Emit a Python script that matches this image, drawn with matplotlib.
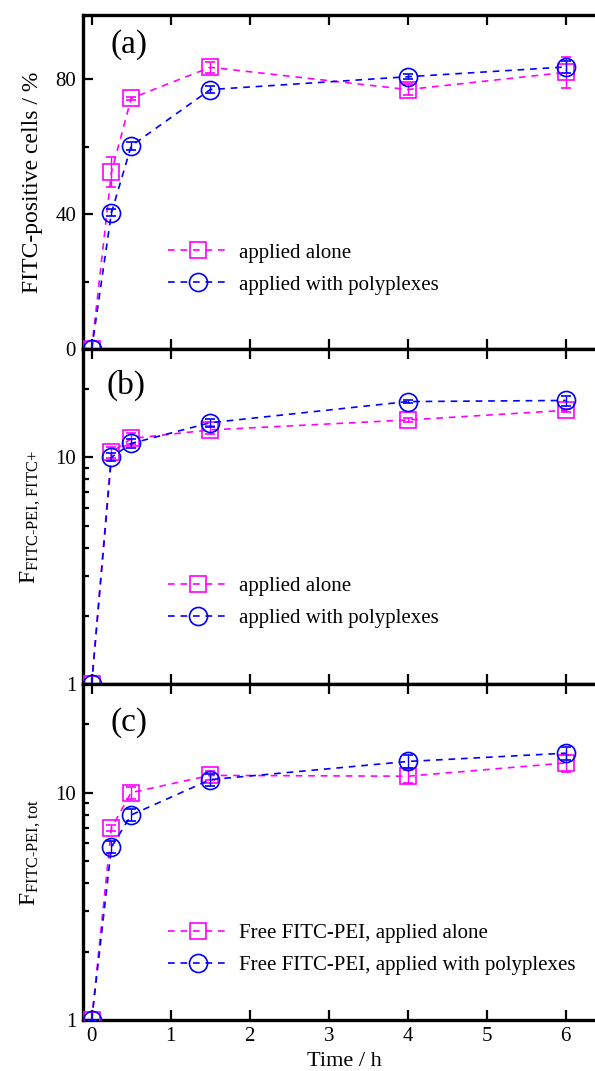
import matplotlib
matplotlib.use("Agg")
import matplotlib.pyplot as plt
from matplotlib.ticker import FixedLocator, NullFormatter, LogLocator, FuncFormatter

plt.rcParams['font.family'] = ['Liberation Serif', 'DejaVu Serif']
plt.rcParams['mathtext.fontset'] = 'custom'
plt.rcParams['mathtext.rm'] = 'Liberation Serif'
plt.rcParams['mathtext.it'] = 'Liberation Serif:italic'
plt.rcParams['font.size'] = 15

# time points (h)
time_h = [0, 0.25, 0.5, 1.5, 4, 6]

# (a) FITC-positive cells / %
pos_alone = [0, 52.4, 74.3, 83.5, 76.9, 82.0]
pos_alone_err = [0, 4.4, 0.5, 1.7, 1.6, 4.6]
pos_poly = [0, 40.4, 60.2, 76.9, 80.7, 83.6]
pos_poly_err = [0, 1.0, 1.2, 1.0, 0.8, 1.7]

# (b) F FITC-PEI, FITC+
fpos_alone = [1, 10.5, 12.1, 13.2, 14.6, 16.1]
fpos_alone_err = [0, 0.6, 0.7, 0.5, 0.3, 0.3]
fpos_poly = [1, 10.0, 11.5, 14.2, 17.6, 17.8]
fpos_poly_err = [0, 0.4, 0.5, 0.6, 0.3, 0.9]

# (c) F FITC-PEI, tot
ftot_alone = [1, 7.0, 10.0, 11.9, 11.8, 13.5]
ftot_alone_err = [0, 0.2, 0.6, 0.6, 0.8, 1.2]
ftot_poly = [1, 5.76, 7.97, 11.4, 13.7, 14.9]
ftot_poly_err = [0, 0.35, 0.5, 0.7, 0.9, 1.0]

legend_a = ["applied alone", "applied with polyplexes"]
legend_c = ["Free FITC-PEI, applied alone", "Free FITC-PEI, applied with polyplexes"]

MAG = '#ff00ff'
BLU = '#0000ff'

fig = plt.figure(figsize=(5.95, 10.71), dpi=100)
left, width = 83 / 595, 1 - 83 / 595
ax_a = fig.add_axes([left, 0.6741, width, 0.3119])
ax_b = fig.add_axes([left, 0.3613, width, 0.3128])
ax_c = fig.add_axes([left, 0.0476, width, 0.3137])


def draw(ax, y1, e1, y2, e2, labels):
    ls = (0, (4, 3.5))
    ax.errorbar(time_h, y1, yerr=e1, color=MAG, ls=ls, lw=1.2, marker='s', ms=12,
                mfc='none', mec=MAG, mew=1.2, capsize=3.5, elinewidth=1.0,
                capthick=1.0, label=labels[0], zorder=3)
    ax.errorbar(time_h, y2, yerr=e2, color=BLU, ls=ls, lw=1.2, marker='o', ms=13,
                mfc='none', mec=BLU, mew=1.2, capsize=3.5, elinewidth=1.0,
                capthick=1.0, label=labels[1], zorder=4)
    ax.set_xlim(-0.11, 6.37)
    ax.xaxis.set_major_locator(FixedLocator([0, 1, 2, 3, 4, 5, 6]))
    ax.tick_params(which='both', direction='in', top=True, right=False, width=1.6)
    ax.tick_params(which='major', length=7, pad=5)
    ax.tick_params(which='minor', length=4)
    for s in ['left', 'top', 'bottom']:
        ax.spines[s].set_linewidth(2.4)
    ax.spines['right'].set_visible(False)


def add_legend(ax, y):
    h, l = ax.get_legend_handles_labels()
    h = [x[0] for x in h]
    ax.legend(h, l, loc='center left', bbox_to_anchor=(0.166, y), frameon=False,
              fontsize=15, handlelength=2.9, handletextpad=0.5, labelspacing=0.6,
              borderpad=0, borderaxespad=0, numpoints=1)


# panel (a)
draw(ax_a, pos_alone, pos_alone_err, pos_poly, pos_poly_err, legend_a)
ax_a.set_ylim(0, 99)
ax_a.yaxis.set_major_locator(FixedLocator([0, 40, 80]))
ax_a.yaxis.set_minor_locator(FixedLocator([20, 60]))
ax_a.set_ylabel("FITC-positive cells / %", fontsize=17, labelpad=9)
ax_a.tick_params(labelbottom=False)
ax_a.text(0.053, 0.91, "(a)", transform=ax_a.transAxes, fontsize=24, va='center')
add_legend(ax_a, 0.24)

# panel (b)
draw(ax_b, fpos_alone, fpos_alone_err, fpos_poly, fpos_poly_err, legend_a)
ax_b.set_yscale('log')
ax_b.set_ylim(1, 30)
ax_b.set_ylabel(r"F$_{\text{FITC-PEI, FITC+}}$", fontsize=17, labelpad=9)
ax_b.tick_params(labelbottom=False)
ax_b.text(0.045, 0.893, "(b)", transform=ax_b.transAxes, fontsize=24, va='center')
add_legend(ax_b, 0.243)

# panel (c)
draw(ax_c, ftot_alone, ftot_alone_err, ftot_poly, ftot_poly_err, legend_c)
ax_c.set_yscale('log')
ax_c.set_ylim(1, 30)
ax_c.set_ylabel(r"F$_{\text{FITC-PEI, tot}}$", fontsize=17, labelpad=9)
ax_c.set_xlabel("Time / h", fontsize=16, labelpad=4)
ax_c.xaxis.label.set_x(0.51)
ax_c.text(0.053, 0.884, "(c)", transform=ax_c.transAxes, fontsize=24, va='center')
add_legend(ax_c, 0.21)

for ax in (ax_b, ax_c):
    ax.yaxis.set_major_locator(FixedLocator([1, 10]))
    ax.yaxis.set_major_formatter(FuncFormatter(lambda v, p: "%g" % v))
    ax.yaxis.set_minor_locator(LogLocator(base=10, subs=range(2, 10)))
    ax.yaxis.set_minor_formatter(NullFormatter())

fig.savefig("out.png", dpi=100)
